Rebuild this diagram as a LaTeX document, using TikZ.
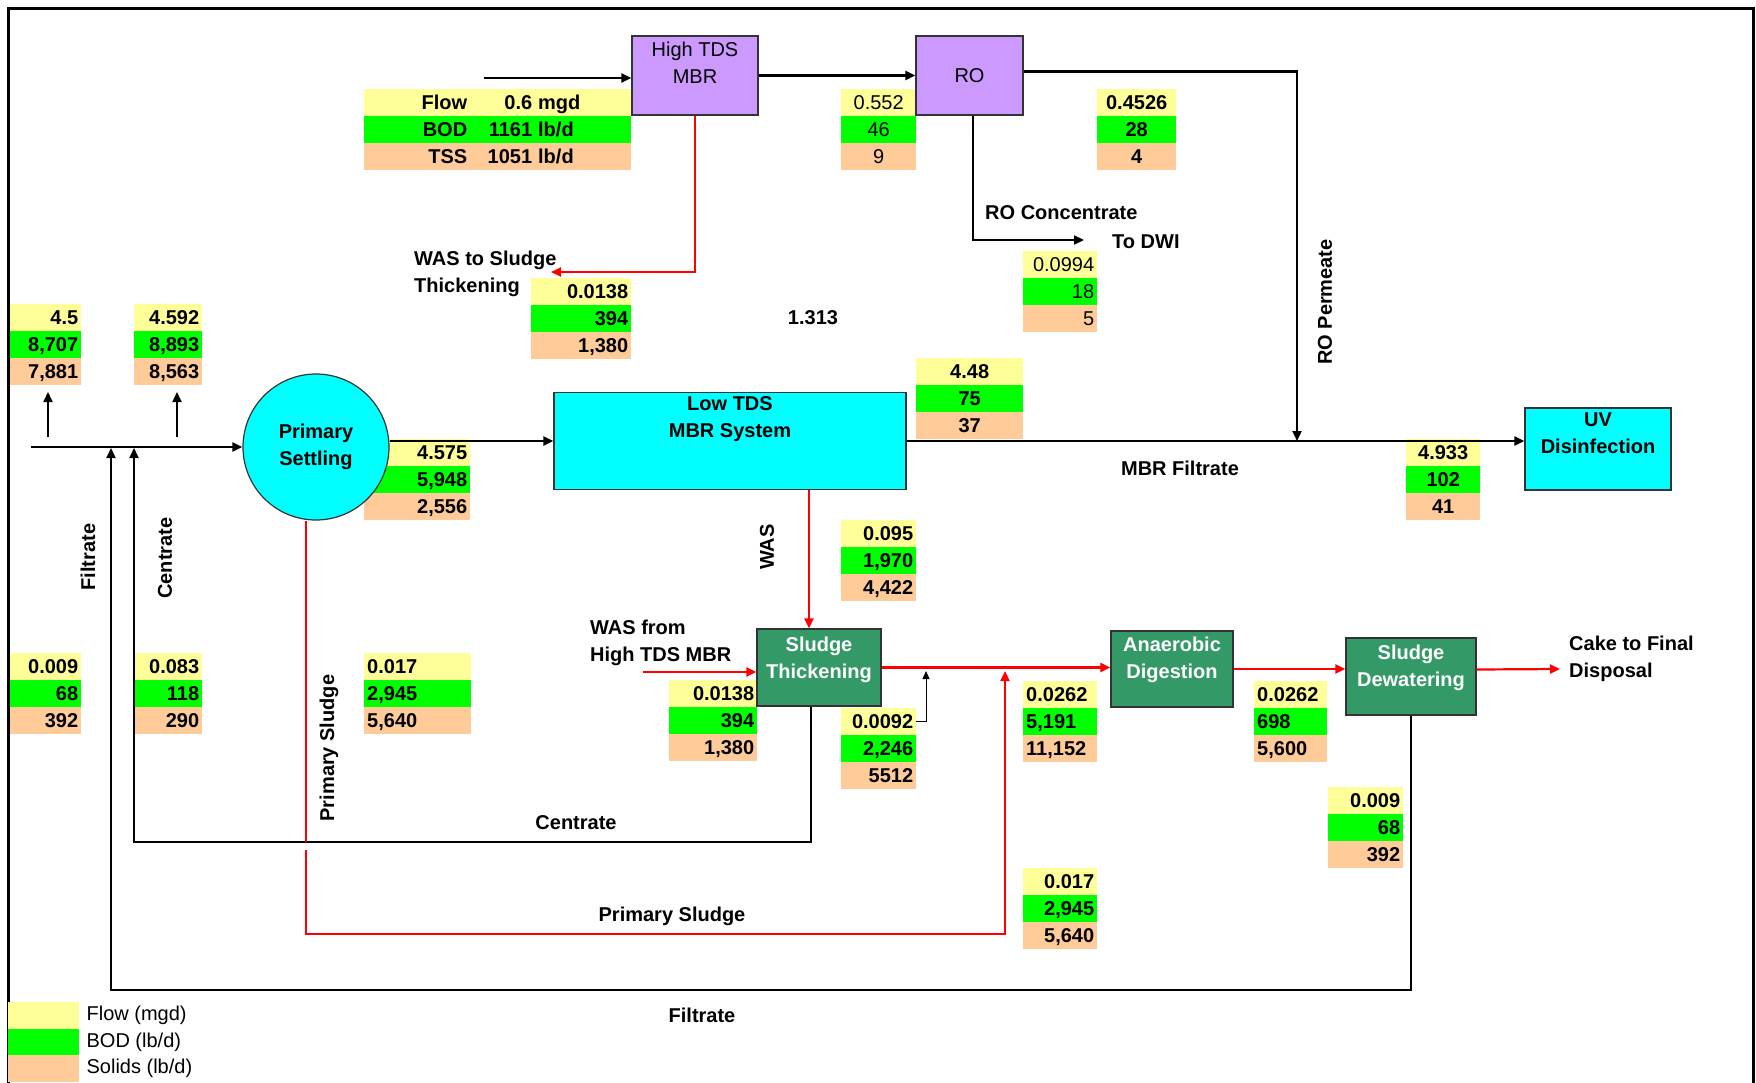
\documentclass[tikz,border=0pt]{standalone}
\usepackage{fontspec}
\setmainfont{Liberation Sans}
\usetikzlibrary{arrows.meta,positioning,calc}

\definecolor{flowc}{HTML}{FFFF99}
\definecolor{bodc}{HTML}{00FF00}
\definecolor{solc}{HTML}{FFCC99}
\definecolor{lilac}{HTML}{CC99FF}
\definecolor{aqua}{HTML}{00FFFF}
\definecolor{sludgeg}{HTML}{339966}

% three-row data block: [opts]{name}{north west}{width}{flow}{bod}{solids}
\newcommand{\qtab}[7][]{%
  \pgfmathsetmacro{\qtw}{#4-6}%
  \node[cell,fill=flowc,text width=\qtw pt,#1,anchor=north west] (#2f) at (#3) {#5};
  \node[cell,fill=bodc,text width=\qtw pt,#1,anchor=north] (#2b) at (#2f.south) {#6};
  \node[cell,fill=solc,text width=\qtw pt,#1,anchor=north] (#2s) at (#2b.south) {#7};}

\begin{document}
\begin{tikzpicture}[x=1pt,y=-1pt,font=\fontsize{20}{27}\selectfont\bfseries,
    cell/.style={inner xsep=3pt,inner ysep=0pt,minimum height=26.5pt,text height=14.5pt,text depth=0pt,align=right},
    ctr/.style={align=center}, lft/.style={align=left},
    thin/.style={font=\fontsize{20}{27}\selectfont\mdseries},
    unit/.style={draw=black!80,line width=1.2pt,inner sep=0pt},
    wlbl/.style={text=white,align=center,inner sep=0pt,anchor=north},
    lbl/.style={inner sep=0pt},
    arr/.style={line width=2.2pt,-{Triangle[length=10pt,width=9pt]}},
    sl/.style={line width=2.2pt,red},
    slarr/.style={sl,-{Triangle[length=10pt,width=9pt]}}]
  \useasboundingbox (0,0) rectangle (1756,1082);
  \draw[line width=3pt] (8,1090) -- (8,8) -- (1753,8) -- (1753,1090);

  % data blocks
  \node[cell,fill=flowc,inner xsep=0pt,anchor=north west] (inff) at (364,89)
    {\makebox[103pt][r]{Flow}\makebox[65pt][r]{0.6}\hspace{6pt}\makebox[93pt][l]{mgd}};
  \node[cell,fill=bodc,inner xsep=0pt,anchor=north] (infb) at (inff.south)
    {\makebox[103pt][r]{BOD}\makebox[65pt][r]{1161}\hspace{6pt}\makebox[93pt][l]{lb/d}};
  \node[cell,fill=solc,inner xsep=0pt,anchor=north] (infs) at (infb.south)
    {\makebox[103pt][r]{TSS}\makebox[65pt][r]{1051}\hspace{6pt}\makebox[93pt][l]{lb/d}};
  \qtab[ctr,thin]{hmo}{841,89}{75}{0.552}{46}{9}
  \qtab[ctr]{rop}{1097,89}{79}{0.4526}{28}{4}
  \qtab[thin]{roc}{1023,251}{74}{0.0994}{18}{5}
  \qtab{wst}{531,278}{100}{0.0138}{394}{1,380}
  \qtab{inA}{10,304}{71}{4.5}{8,707}{7,881}
  \qtab{inB}{134,304}{68}{4.592}{8,893}{8,563}
  \qtab{pse}{364,439}{106}{4.575}{5,948}{2,556}
  \qtab[ctr]{mbf}{916,358}{107}{4.48}{75}{37}
  \qtab[ctr]{uvi}{1406,439}{74}{4.933}{102}{41}
  \qtab{was}{841,520}{75}{0.095}{1,970}{4,422}
  \qtab{wsh}{669,680}{88}{0.0138}{394}{1,380}
  \qtab{t92}{841,708}{75}{0.0092}{2,246}{5512}
  \qtab[lft]{adi}{1023,681}{74}{0.0262}{5,191}{11,152}
  \qtab[lft]{ado}{1254,681}{73}{0.0262}{698}{5,600}
  \qtab{sdf}{1328,787}{75}{0.009}{68}{392}
  \qtab{fil}{10,653}{71}{0.009}{68}{392}
  \qtab{cen}{134,653}{68}{0.083}{118}{290}
  \qtab[lft]{psl}{364,653}{107}{0.017}{2,945}{5,640}
  \qtab{psb}{1023,868}{74}{0.017}{2,945}{5,640}

  % process units
  \node[unit,fill=lilac,minimum width=126pt,minimum height=79pt] (hmbr) at (695,75.5) {};
  \node[thin,align=center,inner sep=0pt,anchor=north] (hmbr-t) at ([yshift=-6.5pt]hmbr.north) {High TDS\\MBR};
  \node[unit,fill=lilac,minimum width=107pt,minimum height=79pt,thin] (ro) at (969.5,75.5) {RO};
  \node[circle,draw=black!80,line width=1.2pt,fill=aqua,minimum size=146pt,inner sep=0pt,align=center] (ps) at (316,447) {Primary\\Settling};
  \node[unit,fill=aqua,minimum width=352pt,minimum height=97pt] (ltds) at (730,441) {};
  \node[align=center,inner sep=0pt,anchor=north] (ltds-t) at ([yshift=-4pt]ltds.north) {Low TDS\\MBR System};
  \node[unit,fill=aqua,minimum width=146pt,minimum height=82pt] (uv) at (1598,449) {};
  \node[align=center,inner sep=0pt,anchor=north] (uv-t) at ([yshift=-5.5pt]uv.north) {UV\\Disinfection};
  \node[unit,fill=sludgeg,minimum width=124pt,minimum height=77pt] (st) at (819,667.5) {};
  \node[wlbl] (st-t) at ([yshift=-8.5pt]st.north) {Sludge\\Thickening};
  \node[unit,fill=sludgeg,minimum width=122pt,minimum height=76pt] (ad) at (1172,669) {};
  \node[wlbl] (ad-t) at ([yshift=-6.5pt]ad.north) {Anaerobic\\Digestion};
  \node[unit,fill=sludgeg,minimum width=130pt,minimum height=77pt] (sd) at (1411,676.5) {};
  \node[wlbl] (sd-t) at ([yshift=-7.5pt]sd.north) {Sludge\\Dewatering};

  % connector ends and junctions
  \coordinate (hin) at (484,78);
  \coordinate (perm) at (1297,441);
  \coordinate (dwi) at (1084,240);
  \coordinate (wasto) at (551,272);
  \coordinate (inflow) at (31,447);
  \coordinate (fj) at (111,448);
  \coordinate (cj) at (134,448);
  \coordinate (fb) at (111,990);
  \coordinate (cb) at (134,842);
  \coordinate (wasin) at (643,672);
  \coordinate (dm) at (926,671);
  \coordinate (cake) at (1560,669);
  \coordinate (pgap) at (306,850);
  \coordinate (pbot) at (1005,934);
  \coordinate (pj) at (1005,671);
  \coordinate (upA) at (48,437);
  \coordinate (upB) at (177,437);

  % black lines
  \draw[arr] (hin) -- (hin -| hmbr.west);
  \draw[arr] (hmbr.east) -- (ro.west);
  \draw[arr] ([yshift=4pt]ro.east) -| (perm);
  \draw[arr] ([xshift=3.5pt]ro.south) |- (dwi);
  \draw[arr] (inflow) -- (ps.west);
  \draw[arr] (upA) -- ++(0,-45);
  \draw[arr] (upB) -- ++(0,-45);
  \draw[arr] (ps.east |- ltds.west) -- (ltds.west);
  \draw[arr] (ltds.east) -- (ltds.east -| uv.west);
  \draw[arr] (sd.south) |- (fb) -- (fj);
  \draw[arr] ([xshift=-8pt]st.south) |- (cb) -- (cj);
  \draw[line width=1pt,-{Triangle[length=8pt,width=7pt]}] (t92f.east) -| (dm);

  % red sludge lines
  \draw[slarr] (hmbr.south) |- (wasto);
  \draw[slarr] ([xshift=79pt]ltds.south) -- ([xshift=79pt]ltds.south |- st.north);
  \draw[slarr] (wasin) -- (wasin -| st.west);
  \draw[slarr] (st.east) -- (st.east -| ad.west);
  \draw[slarr] (ad.east) -- (ad.east -| sd.west);
  \draw[slarr] ([yshift=7pt]sd.east) -- (cake);
  \draw[sl] ([xshift=-10pt]ps.south) -- (pgap |- cb);
  \draw[slarr] (pgap) |- (pbot) -- (pj);

  % labels
  \node[lbl,align=left,anchor=north west] (l-wasto) at (414,250.5) {WAS to Sludge\\Thickening};
  \node[lbl,anchor=west] (l-roc) at (985,213) {RO Concentrate};
  \node[lbl,anchor=west] (l-dwi) at (1112,242) {To DWI};
  \node[lbl,rotate=90] (l-rop) at (1325,302) {RO Permeate};
  \node[lbl] (l-1313) at (813,318) {1.313};
  \node[lbl] (l-mbrf) at (1180,468) {MBR Filtrate};
  \node[lbl,rotate=90] (l-was) at (767,547) {WAS};
  \node[lbl,rotate=90] (l-fil) at (88,557) {Filtrate};
  \node[lbl,rotate=90] (l-cen) at (165,558) {Centrate};
  \node[lbl,rotate=90] (l-psv) at (329,748) {Primary Sludge};
  \node[lbl,align=left,anchor=north west] (l-wasin) at (590,619.5) {WAS from\\High TDS MBR};
  \node[lbl,align=left,anchor=north west] (l-cake) at (1569,635.5) {Cake to Final\\Disposal};
  \node[lbl] (l-cenb) at (576,823) {Centrate};
  \node[lbl] (l-psh) at (672,916) {Primary Sludge};
  \node[lbl] (l-filb) at (702,1015) {Filtrate};

  % legend
  \foreach \c/\t [count=\i] in {flowc/{Flow (mgd)},bodc/{BOD (lb/d)},solc/{Solids (lb/d)}} {
    \node[fill=\c,minimum width=71pt,minimum height=26.5pt,inner sep=0pt,anchor=north west] (lg\i) at (8,{1002+26.5*(\i-1)}) {};
    \node[thin,inner sep=0pt,anchor=west] (lgt\i) at ([xshift=7pt]lg\i.east) {\t};
  }
\end{tikzpicture}
\end{document}
